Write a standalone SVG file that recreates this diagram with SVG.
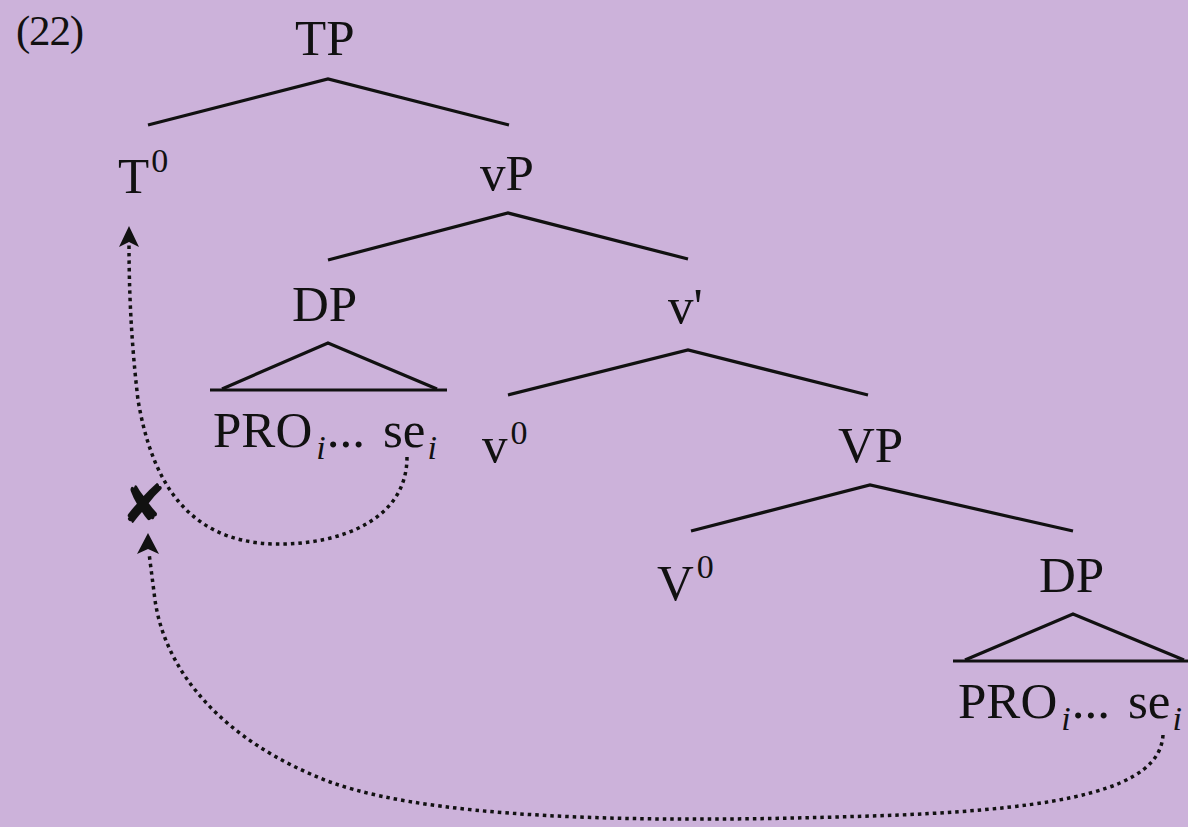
<svg xmlns="http://www.w3.org/2000/svg" width="1188" height="827" viewBox="0 0 1188 827">
<style>
text{font-family:"Liberation Serif","Times New Roman",serif;fill:#111;font-size:51px}
.sub{font-style:italic;font-size:34px}
.sup{font-size:34px}
.br{fill:none;stroke:#111;stroke-width:3.2;stroke-linejoin:miter}
.dot{fill:none;stroke:#111;stroke-width:3.5;stroke-dasharray:3.5 4}
.ah{fill:#111}
</style>
<rect width="1188" height="827" fill="#CCB2DA"/>
<text x="16" y="45" style="font-size:43px" textLength="68">(22)</text>
<g id="TP"><text x="295" y="55">TP</text></g>
<g id="T0"><text x="118" y="193">T<tspan class="sup" dx="2" dy="-21">0</tspan></text></g>
<g id="vP"><text x="480" y="190">vP</text></g>
<g id="DP1"><text x="292" y="321">DP</text>
<polyline class="br" points="222,389 328,343 437,389"/>
<line class="br" x1="210" y1="390" x2="447" y2="390"/>
<text x="213" y="447">PRO<tspan class="sub" dx="4" dy="12">i</tspan><tspan dx="1" dy="-12">...</tspan><tspan x="383">se</tspan><tspan class="sub" dx="2" dy="12">i</tspan></text></g>
<g id="vbar"><text x="668" y="323">v'</text></g>
<g id="v0"><text x="482" y="462">v<tspan class="sup" dx="3" dy="-18">0</tspan></text></g>
<g id="VP"><text x="838" y="462">VP</text></g>
<g id="V0"><text x="657" y="600">V<tspan class="sup" dx="3" dy="-22">0</tspan></text></g>
<g id="DP2"><text x="1039" y="592">DP</text>
<polyline class="br" points="965,660 1073,614 1184,660"/>
<line class="br" x1="953" y1="661" x2="1188" y2="661"/>
<text x="958" y="718">PRO<tspan class="sub" dx="4" dy="12">i</tspan><tspan dx="1" dy="-12">...</tspan><tspan x="1128">se</tspan><tspan class="sub" dx="2" dy="12">i</tspan></text></g>
<g id="mark"><text x="121" y="523" style="font-family:'DejaVu Sans',sans-serif;font-size:54px">✘</text></g>
<g id="connectors">
<polyline class="br" points="148,125 328,79 509,125"/>
<polyline class="br" points="328,260 508,213 688,259"/>
<polyline class="br" points="508,395 688,350 868,395"/>
<polyline class="br" points="691,531 870,485 1073,531"/>
<path class="dot" d="M407,457 C407,520 340,545 275,544 C180,542 150,470 138,400 C131,340 129,290 129,243"/>
<path class="ah" d="M129,226 L139,247 L129,242 L119,247 Z"/>
<path class="dot" d="M1163,735 C1160,790 1060,808 900,815 C700,822 450,825 330,782 C220,740 165,670 155,600 L149,553"/>
<path class="ah" d="M148,533 L159,554 L148,549 L137,554 Z"/>
</g>
</svg>
